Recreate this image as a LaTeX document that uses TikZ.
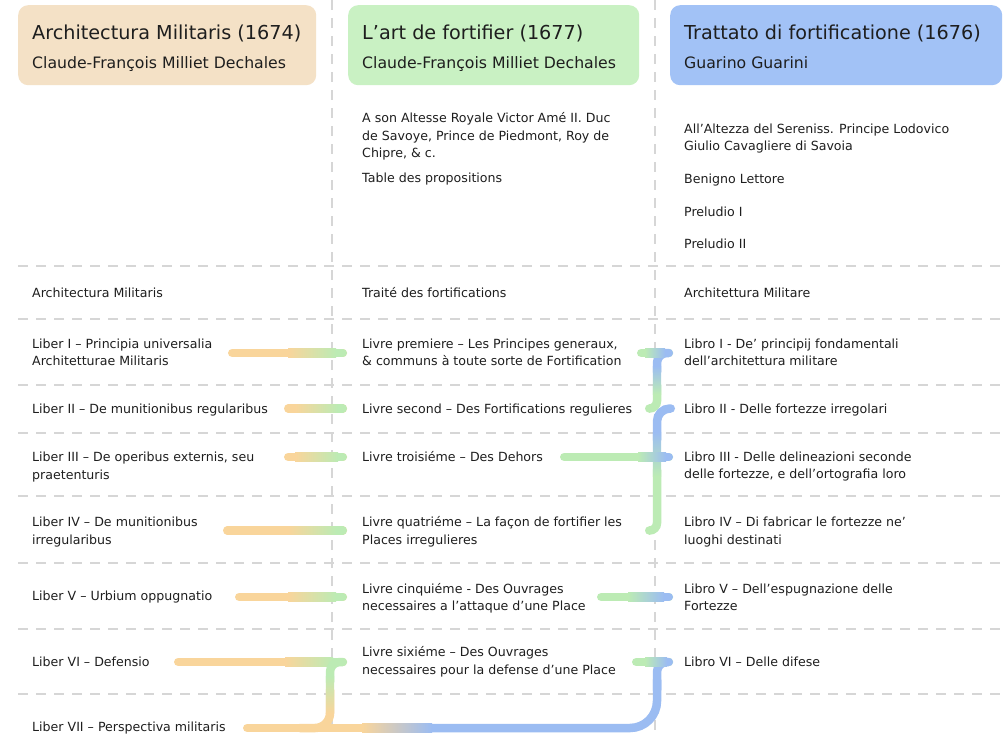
\documentclass[tikz,border=0pt]{standalone}
\usepackage{fontspec}
\setmainfont{DejaVu Sans}
\definecolor{ink}{HTML}{1E1E1E}
\definecolor{cOr}{HTML}{F9D59B}
\definecolor{cGr}{HTML}{BCEBB4}
\definecolor{cBl}{HTML}{9BBCF2}
\definecolor{hOr}{HTML}{F4E1C6}
\definecolor{hGr}{HTML}{C9F1C3}
\definecolor{hBl}{HTML}{A2C2F6}
\definecolor{gridc}{HTML}{D6D6D6}
\newcommand\bodyfont{\fontsize{12.6}{17.3}\selectfont}
\newcommand\titlefont{\fontsize{19.2}{23}\selectfont}
\newcommand\subfont{\fontsize{15.7}{19}\selectfont}
\newcommand\bst{\rule{0pt}{10.5pt}}
% horizontal connector: name, y, xs, xe, gradient start, gradient end, colour A, colour B
\newcommand\hconn[8]{%
  \coordinate (#1s) at (#3,#2);
  \coordinate (#1e) at (#4,#2);
  \draw[conn, #7] (#1s) -- (#1e);
  \draw[conn, #8] (#6,#2) -- (#1e);
  \shade[left color=#7, right color=#8] (#5,#2-4.05) rectangle (#6,#2+4.05);}
\begin{document}
\begin{tikzpicture}[x=1pt,y=-1pt,
  txt/.style={anchor=north west, inner sep=0pt, align=left, font=\bodyfont, text=ink},
  ttl/.style={anchor=base west, inner sep=0pt, font=\titlefont, text=ink},
  sub/.style={anchor=base west, inner sep=0pt, font=\subfont, text=ink},
  hbox/.style={anchor=north west, rounded corners=10pt, minimum height=80pt, inner sep=0pt},
  gridline/.style={draw=gridc, line width=1.2pt, dash pattern=on 10pt off 8pt},
  conn/.style={line width=8.5pt, line cap=round, rounded corners=#1},
  conn/.default=10pt]
\useasboundingbox (0,0) rectangle (1003,736);
\fill[white] (0,0) rectangle (1003,736);

% grid
\foreach \yy in {266,319,385,433,496,563,629,694}
  \draw[gridline] (18,\yy) -- (1003,\yy);
\foreach \xx in {332,655}
  \draw[gridline] (\xx,0) -- (\xx,736);

% headers
\node[hbox, fill=hOr, minimum width=298pt] (h1) at (18,5) {};
\node[ttl] (h1t) at (32,39.5) {Architectura Militaris (1674)};
\node[sub] (h1s) at (32,68.3) {Claude-François Milliet Dechales};
\node[hbox, fill=hGr, minimum width=291pt] (h2) at (348,5) {};
\node[ttl] (h2t) at (362,39.5) {L’art de fortifier (1677)};
\node[sub] (h2s) at (362,68.3) {Claude-François Milliet Dechales};
\node[hbox, fill=hBl, minimum width=332pt] (h3) at (670,5) {};
\node[ttl] (h3t) at (684,39.5) {Trattato di fortificatione (1676)};
\node[sub] (h3s) at (684,68.3) {Guarino Guarini};

% connectors: left to middle
\hconn{p1}{353}{232.25}{342.75}{288}{336}{cOr}{cGr}
\hconn{p2}{408.5}{288.25}{342.75}{295}{338}{cOr}{cGr}
\hconn{p3}{457}{288.25}{342.75}{295}{338}{cOr}{cGr}
\hconn{p4}{530.5}{227.25}{342.75}{288}{336}{cOr}{cGr}
\hconn{p5}{597}{239.25}{342.75}{288}{336}{cOr}{cGr}
\hconn{p6}{662}{178.25}{342.75}{285}{333}{cOr}{cGr}

% Liber VII -> Livre sixieme (branch)
\coordinate (p8s) at (300,728);
\coordinate (p8e) at (342.75,662);
\draw[conn=15pt, cOr] (p8s) -- (330,728) -- (330,690);
\draw[conn=10pt, cGr] (330,682) -- (330,662) -- (p8e);
\shade[top color=cGr, bottom color=cOr] (325.95,676) rectangle (334.05,713);

% Liber VII -> Libro VI
\coordinate (p7s) at (247.25,728);
\coordinate (p7e) at (668.75,662);
\draw[conn, cOr] (p7s) -- (440,728);
\draw[conn=27pt, cBl] (368,728) -- (657,728) -- (657,680);
\draw[conn=10pt, cBl] (657,690) -- (657,662) -- (p7e);
\shade[left color=cOr, right color=cBl] (362,723.95) rectangle (432,732.05);

% middle to right
\coordinate (q2s) at (649.25,408.5);
\coordinate (q2e) at (668.75,353);
\draw[conn=7.5pt, cGr] (q2s) -- (657,408.5) -- (657,385);
\draw[conn=10pt, cBl] (657,372) -- (657,353) -- (q2e);
\shade[top color=cBl, bottom color=cGr] (652.95,366) rectangle (661.05,394);

\coordinate (q4s) at (649.25,530.5);
\coordinate (q4e) at (670.75,408.5);
\draw[conn=7.5pt, cGr] (q4s) -- (657,530.5) -- (657,470);
\draw[conn=13pt, cBl] (657,440) -- (657,408.5) -- (q4e);
\shade[top color=cBl, bottom color=cGr] (652.95,432) rectangle (661.05,476);

\hconn{q1}{353}{641.25}{668.75}{645}{665}{cGr}{cBl}
\hconn{q3}{457}{564.25}{668.75}{638}{666}{cGr}{cBl}
\hconn{q5}{597}{601.25}{668.75}{628}{664}{cGr}{cBl}
\hconn{q6}{662}{636.25}{668.75}{645}{667}{cGr}{cBl}

% column 1
\node[txt] (a0) at (32,286.5) {\bst Architectura Militaris};
\node[txt] (a1) at (32,337.8) {\bst Liber I – Principia universalia\\Architetturae Militaris};
\node[txt] (a2) at (32,402.8) {\bst Liber II – De munitionibus regularibus};
\node[txt] (a3) at (32,451) {\bst Liber III – De operibus externis, seu\\praetenturis};
\node[txt] (a4) at (32,516.2) {\bst Liber IV – De munitionibus\\irregularibus};
\node[txt] (a5) at (32,590.2) {\bst Liber V – Urbium oppugnatio};
\node[txt] (a6) at (32,655.5) {\bst Liber VI – Defensio};
\node[txt] (a7) at (32,721.2) {\bst Liber VII – Perspectiva militaris};

% column 2
\node[txt] (b00) at (362,112.2) {\bst A son Altesse Royale Victor Amé II. Duc\\de Savoye, Prince de Piedmont, Roy de\\Chipre, \& c.};
\node[txt] (b01) at (362,172.2) {\bst Table des propositions};
\node[txt] (b0) at (362,286.5) {\bst Traité des fortifications};
\node[txt] (b1) at (362,337.8) {\bst Livre premiere – Les Principes generaux,\\\& communs à toute sorte de Fortification};
\node[txt] (b2) at (362,402.8) {\bst Livre second – Des Fortifications regulieres};
\node[txt] (b3) at (362,450.5) {\bst Livre troisiéme – Des Dehors};
\node[txt] (b4) at (362,516.2) {\bst Livre quatriéme – La façon de fortifier les\\Places irregulieres};
\node[txt] (b5) at (362,582.8) {\bst Livre cinquiéme - Des Ouvrages\\necessaires a l’attaque d’une Place};
\node[txt] (b6) at (362,646.2) {\bst Livre sixiéme – Des Ouvrages\\necessaires pour la defense d’une Place};

% column 3
\node[txt] (c00) at (684,122.8) {\bst All’Altezza del Sereniss. Principe Lodovico\\Giulio Cavagliere di Savoia};
\node[txt] (c01) at (684,172.8) {\bst Benigno Lettore};
\node[txt] (c02) at (684,205.5) {\bst Preludio I};
\node[txt] (c03) at (684,237.8) {\bst Preludio II};
\node[txt] (c0) at (684,286.5) {\bst Architettura Militare};
\node[txt] (c1) at (684,337.8) {\bst Libro I - De’ principij fondamentali\\dell’architettura militare};
\node[txt] (c2) at (684,402.8) {\bst Libro II - Delle fortezze irregolari};
\node[txt] (c3) at (684,450.5) {\bst Libro III - Delle delineazioni seconde\\delle fortezze, e dell’ortografia loro};
\node[txt] (c4) at (684,516.2) {\bst Libro IV – Di fabricar le fortezze ne’\\luoghi destinati};
\node[txt] (c5) at (684,582.8) {\bst Libro V – Dell’espugnazione delle\\Fortezze};
\node[txt] (c6) at (684,655.5) {\bst Libro VI – Delle difese};
\end{tikzpicture}
\end{document}
